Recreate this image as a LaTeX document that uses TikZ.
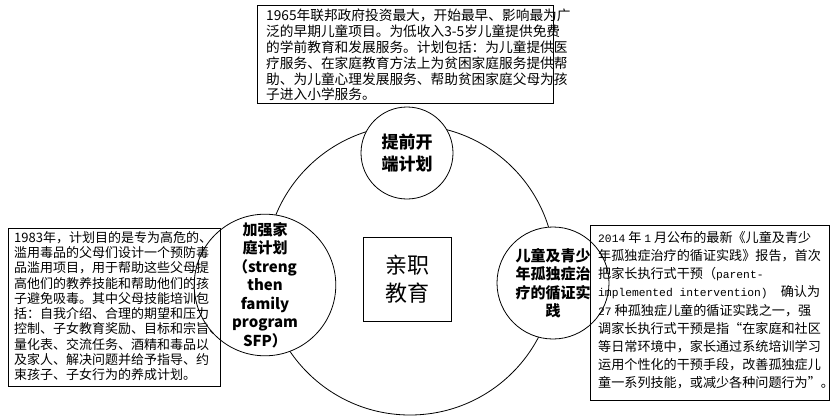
\documentclass[tikz,border=0pt]{standalone}
\usepackage{fontspec}
\setmainfont{Noto Sans CJK SC}
\newfontfamily\monof{Liberation Mono}
\newcommand{\mo}[1]{{\monof\fontsize{11.3}{12}\selectfont #1}}
\begin{document}
\begin{tikzpicture}[x=1pt,y=-1pt,
  box/.style={draw=none,align=left,inner sep=0pt,anchor=north west},
  circ/.style={draw,circle,fill=white,line width=0.8pt,align=center,inner sep=0pt,font=\bfseries\fontsize{15}{18.5}\selectfont}]
\useasboundingbox (0,0) rectangle (832,420);
\draw[line width=0.8pt] (410,270) circle (145);
\node[circ,minimum size=92pt,font=\bfseries\fontsize{17}{22}\selectfont] (top) at (407,153) {提前开\\端计划};
\node[circ,minimum size=100pt] (left) at (265,285) {加强家\\庭计划\\（streng\\then\\family\\program\\SFP）};
\node[circ,minimum size=112pt] (right) at (553,283) {儿童及青少\\年孤独症治\\疗的循证实\\践};
\node[draw,line width=0.8pt,minimum width=88pt,minimum height=84pt,font=\fontsize{22}{28}\selectfont,align=center] (mid) at (407,279) {亲职\\教育};
\draw[line width=0.8pt] (257,5) rectangle (553,103);
\node[box,font=\fontsize{13.7}{15.8}\selectfont] (tb) at (266,9) {1965年联邦政府投资最大，开始最早、影响最为广\\泛的早期儿童项目。为低收入3-5岁儿童提供免费\\的学前教育和发展服务。计划包括：为儿童提供医\\疗服务、在家庭教育方法上为贫困家庭服务提供帮\\助、为儿童心理发展服务、帮助贫困家庭父母为孩\\子进入小学服务。};
\draw[line width=0.8pt] (8,228) rectangle (220,386);
\node[box,font=\fontsize{13}{15.3}\selectfont] (lb) at (14,231) {1983年，计划目的是专为高危的、\\滥用毒品的父母们设计一个预防毒\\品滥用项目，用于帮助这些父母提\\高他们的教养技能和帮助他们的孩\\子避免吸毒。其中父母技能培训包\\括：自我介绍、合理的期望和压力\\控制、子女教育奖励、目标和宗旨、\\量化表、交流任务、酒精和毒品以\\及家人、解决问题并给予指导、约\\束孩子、子女行为的养成计划。};
\draw[line width=0.8pt] (590,225) rectangle (829,400);
\node[box,font=\fontsize{13.1}{18.2}\selectfont] (rb) at (598,231) {\mo{2014} 年 \mo{1} 月公布的最新《儿童及青少\\年孤独症治疗的循证实践》报告，首次\\把家长执行式干预（\mo{parent-}\\\mo{implemented intervention)}\quad 确认为\\\mo{27} 种孤独症儿童的循证实践之一，强\\调家长执行式干预是指“在家庭和社区\\等日常环境中，家长通过系统培训学习\\运用个性化的干预手段，改善孤独症儿\\童一系列技能，或减少各种问题行为”。};
\end{tikzpicture}
\end{document}
